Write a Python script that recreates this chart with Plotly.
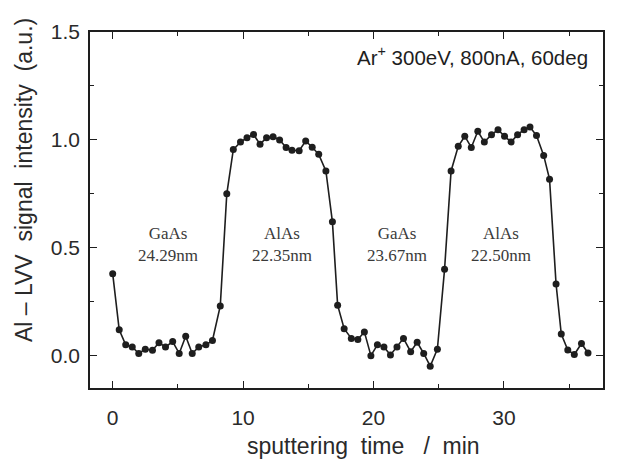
import plotly.graph_objects as go

time_min = [0.0, 0.5, 1.0, 1.5, 2.0, 2.5, 3.05, 3.55, 4.05, 4.6, 5.1, 5.6, 6.1, 6.6, 7.15, 7.65,
            8.25, 8.75, 9.25, 9.8, 10.3, 10.8, 11.3, 11.8, 12.3, 12.8, 13.3, 13.75, 14.3, 14.8,
            15.3, 15.8, 16.35, 16.85, 17.25, 17.75, 18.3, 18.8, 19.3, 19.8, 20.3, 20.8, 21.3,
            21.8, 22.3, 22.85, 23.35, 23.85, 24.35, 24.9, 25.45, 25.95, 26.5, 27.0, 27.5, 28.0,
            28.5, 29.05, 29.55, 30.05, 30.55, 31.05, 31.55, 32.0, 32.5, 33.05, 33.5, 34.0, 34.4,
            34.9, 35.4, 35.95, 36.45]
intensity = [0.38, 0.12, 0.05, 0.04, 0.01, 0.03, 0.025, 0.06, 0.04, 0.065, 0.01, 0.09, 0.01,
             0.04, 0.05, 0.07, 0.23, 0.75, 0.955, 0.99, 1.01, 1.025, 0.98, 1.01, 1.015, 1.0,
             0.965, 0.952, 0.95, 0.995, 0.966, 0.933, 0.856, 0.62, 0.234, 0.125, 0.08, 0.075,
             0.11, 0.0, 0.05, 0.04, 0.003, 0.04, 0.08, 0.018, 0.062, 0.01, -0.049, 0.03, 0.40,
             0.856, 0.97, 1.017, 0.965, 1.04, 0.99, 1.024, 1.047, 1.017, 0.99, 1.024, 1.047,
             1.06, 1.02, 0.928, 0.818, 0.332, 0.10, 0.026, 0.005, 0.056, 0.012]

layer_x = [4.25, 12.95, 21.8, 29.8]
layer_names = ["GaAs", "AlAs", "GaAs", "AlAs"]
layer_thick = ["24.29nm", "22.35nm", "23.67nm", "22.50nm"]
layer_y = 0.515

x_ticks = [0, 10, 20, 30]
y_ticks = [0.0, 0.5, 1.0, 1.5]

ink = "#1e1e1e"
sans = "Liberation Sans, Arial, sans-serif"
serif = "Liberation Serif, Times New Roman, serif"

fig = go.Figure()
fig.add_trace(go.Scatter(
    x=time_min, y=intensity, mode="lines+markers",
    line=dict(color=ink, width=1.6),
    marker=dict(color=ink, size=7, symbol="circle"),
    showlegend=False,
))

for xv, nm, th in zip(layer_x, layer_names, layer_thick):
    fig.add_annotation(x=xv, y=layer_y, xref="x", yref="y",
                       text=f"{nm}<br>{th}", showarrow=False,
                       font=dict(family=serif, size=17, color="#3a3a3a"),
                       align="center")

fig.add_annotation(x=36.57, y=1.39, xref="x", yref="y", xanchor="right",
                   text="Ar<sup>+</sup> 300eV, 800nA, 60deg", showarrow=False,
                   font=dict(family=sans, size=20.5, color=ink))

fig.add_annotation(x=-0.1287, y=0.584, xref="paper", yref="paper",
                   xanchor="center", yanchor="middle",
                   text="Al \u2013 LVV  signal  intensity  (a.u.)", textangle=-90,
                   showarrow=False, font=dict(family=sans, size=23, color="#2a2a2a"))

fig.add_annotation(x=0.534, y=-0.163, xref="paper", yref="paper",
                   xanchor="center", yanchor="middle",
                   text="sputtering  time   /  min",
                   showarrow=False, font=dict(family=sans, size=23, color="#2a2a2a"))

axis_common = dict(
    showline=True, linecolor=ink, linewidth=1.5, mirror="ticks",
    ticks="inside", ticklen=7, tickwidth=1.3, tickcolor=ink,
    showgrid=False, zeroline=False,
    tickfont=dict(family=sans, size=21, color="#2a2a2a"),
)

fig.update_xaxes(**axis_common, range=[-1.74, 37.6], tickvals=x_ticks,
                 ticktext=[str(v) for v in x_ticks], ticklabelstandoff=10,
                 minor=dict(dtick=5, tick0=0, ticks="inside", ticklen=4, tickcolor=ink))
fig.update_yaxes(**axis_common, range=[-0.15, 1.5], tickvals=y_ticks,
                 ticktext=[f"{v:.1f}" for v in y_ticks], ticklabelstandoff=4,
                 minor=dict(dtick=0.25, tick0=0, ticks="inside", ticklen=4, tickcolor=ink))

fig.update_layout(
    width=619, height=465,
    margin=dict(l=82, r=24, t=19, b=85),
    plot_bgcolor="white", paper_bgcolor="white",
)

fig.write_html("out.html")
